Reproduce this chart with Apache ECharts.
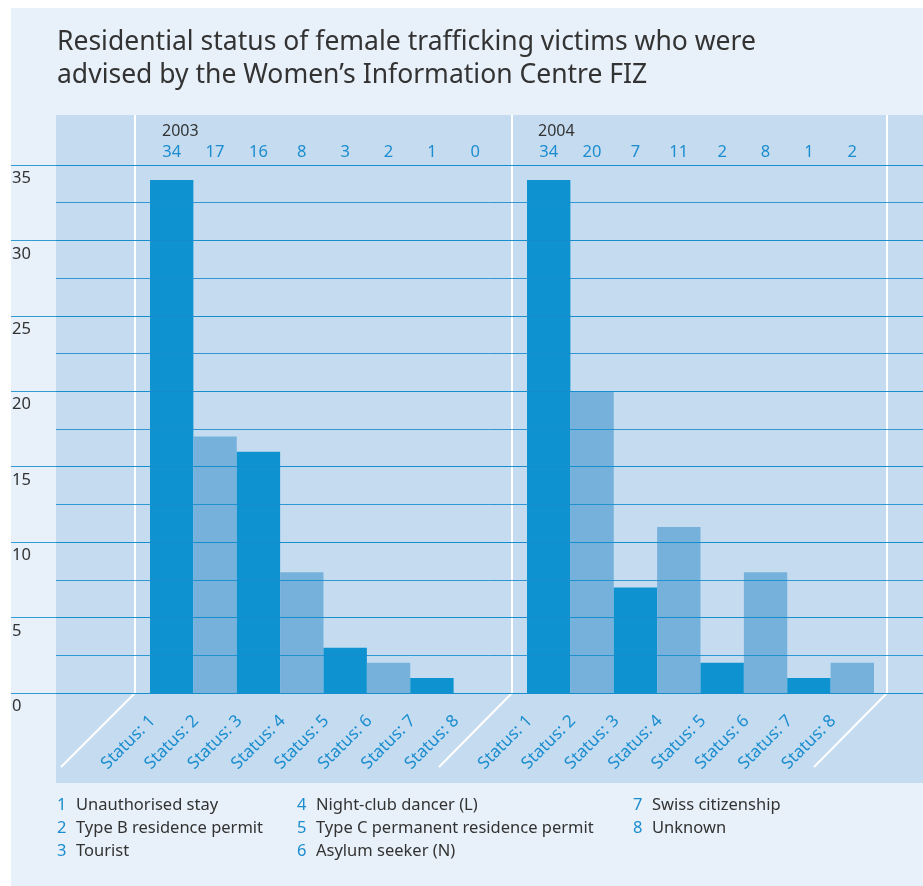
<!DOCTYPE html>
<html><head><meta charset="utf-8">
<script src="https://cdn.jsdelivr.net/npm/echarts@6/dist/echarts.min.js"></script>
<style>html,body{margin:0;padding:0;background:#ffffff;} #c{width:923px;height:886px;}</style>
</head><body><div id="c"></div>
<script>
// ---- data ----
const categories = ['Status: 1','Status: 2','Status: 3','Status: 4','Status: 5','Status: 6','Status: 7','Status: 8'];
const years = ['2003', '2004'];
const values2003 = [34, 17, 16, 8, 3, 2, 1, 0];
const values2004 = [34, 20, 7, 11, 2, 8, 1, 2];
const yMin = 0, yMax = 35, yMajor = 5, yMinor = 2.5;
const legendNumbers = ['1','2','3','4','5','6','7','8'];
const legendLabels = ['Unauthorised stay','Type B residence permit','Tourist','Night-club dancer (L)','Type C permanent residence permit','Asylum seeker (N)','Swiss citizenship','Unknown'];
const titleText = 'Residential status of female trafficking victims who were\nadvised by the Women\u2019s Information Centre FIZ';

// ---- style ----
const FONT = 'Noto Sans';
const BLUE = '#1b8dcf';
const DARK = '#333333';
const BAR_DARK = '#0e93d0';
const BAR_LIGHT = '#76b1dc';
const LINE = 'rgba(20,140,205,0.85)';

const chart = echarts.init(document.getElementById('c'), null, {renderer: 'canvas'});

const plotTop = 165, plotH = 528;
const barGrids = [{left: 150, width: 347}, {left: 527, width: 347}];
const seriesData = [values2003, values2004];

const grid = [
  {left: 11, right: 0, top: plotTop, height: plotH},
  {left: 56, right: 0, top: plotTop, height: plotH},
  {left: barGrids[0].left, width: barGrids[0].width, top: plotTop, height: plotH},
  {left: barGrids[1].left, width: barGrids[1].width, top: plotTop, height: plotH}
];

const xAxis = [
  {gridIndex: 0, type: 'value', show: false},
  {gridIndex: 1, type: 'value', show: false}
];
const yAxis = [
  {gridIndex: 0, type: 'value', min: yMin, max: yMax, interval: yMajor, z: 5,
   axisLine: {show: false}, axisTick: {show: false},
   splitLine: {show: true, lineStyle: {color: LINE, width: 1}},
   axisLabel: {inside: true, margin: 1, align: 'left', verticalAlign: 'top', padding: [5, 0, 0, 0],
     color: DARK, fontSize: 16.5, fontFamily: FONT}},
  {gridIndex: 1, type: 'value', min: yMin, max: yMax, interval: yMinor, z: 5,
   axisLine: {show: false}, axisTick: {show: false}, axisLabel: {show: false},
   splitLine: {show: true, lineStyle: {color: LINE, width: 1}}}
];
const series = [];
seriesData.forEach((vals, i) => {
  const gi = 2 + i;
  xAxis.push({gridIndex: gi, type: 'category', data: categories, position: 'bottom',
    axisLine: {show: false}, axisTick: {show: false},
    axisLabel: {rotate: 45, margin: 6, padding: [0, 27, 0, 0], interval: 0,
      color: BLUE, fontSize: 17, fontFamily: FONT}});
  xAxis.push({gridIndex: gi, type: 'category', data: vals.map(String), position: 'top',
    axisLine: {show: false}, axisTick: {show: false},
    axisLabel: {margin: 4, interval: 0, color: BLUE, fontSize: 16.5, fontFamily: FONT}});
  yAxis.push({gridIndex: gi, type: 'value', min: yMin, max: yMax, show: false});
  series.push({type: 'bar', name: years[i], xAxisIndex: xAxis.length - 2, yAxisIndex: yAxis.length - 1,
    data: vals, barCategoryGap: '0%', z: 3,
    itemStyle: {color: p => (p.dataIndex % 2 === 0 ? BAR_DARK : BAR_LIGHT)}});
});

// legend columns
const legendCols = [[0,1,2],[3,4,5],[6,7]];
const legendLefts = [57, 297, 633];
const title = [
  {text: titleText, left: 57, top: 26, padding: 0,
   textStyle: {fontSize: 26.5, fontWeight: 'normal', color: DARK, fontFamily: FONT, lineHeight: 33}},
  {text: years[0], left: 162, top: 123, padding: 0,
   textStyle: {fontSize: 16, fontWeight: 'normal', color: DARK, fontFamily: FONT}},
  {text: years[1], left: 538, top: 123, padding: 0,
   textStyle: {fontSize: 16, fontWeight: 'normal', color: DARK, fontFamily: FONT}}
];
legendCols.forEach((idxs, c) => {
  title.push({
    text: idxs.map(k => '{n|' + legendNumbers[k] + '}{t|' + legendLabels[k] + '}').join('\n'),
    left: legendLefts[c], top: 794, padding: 0,
    textStyle: {fontSize: 16.5, fontWeight: 'normal', fontFamily: FONT, lineHeight: 23,
      rich: {n: {color: BLUE, width: 19, fontSize: 16.5, fontFamily: FONT, lineHeight: 23},
             t: {color: DARK, fontSize: 16.5, fontFamily: FONT, lineHeight: 23}}}
  });
});

const white = {stroke: '#ffffff', lineWidth: 2};
const graphic = [
  {type: 'rect', z: -20, silent: true, shape: {x: 11, y: 8, width: 912, height: 878}, style: {fill: '#e8f0f9'}},
  {type: 'rect', z: -10, silent: true, shape: {x: 56, y: 115, width: 867, height: 668}, style: {fill: '#c5dcf0'}},
  {type: 'polyline', z: -5, silent: true, shape: {points: [[135,115],[135,693],[61,767]]}, style: white},
  {type: 'polyline', z: -5, silent: true, shape: {points: [[512,115],[512,693],[439,767]]}, style: white},
  {type: 'polyline', z: -5, silent: true, shape: {points: [[887,115],[887,693],[814,767]]}, style: white}
];

chart.setOption({
  animation: false,
  textStyle: {fontFamily: FONT},
  title, grid, xAxis, yAxis, series, graphic
});
</script></body></html>
